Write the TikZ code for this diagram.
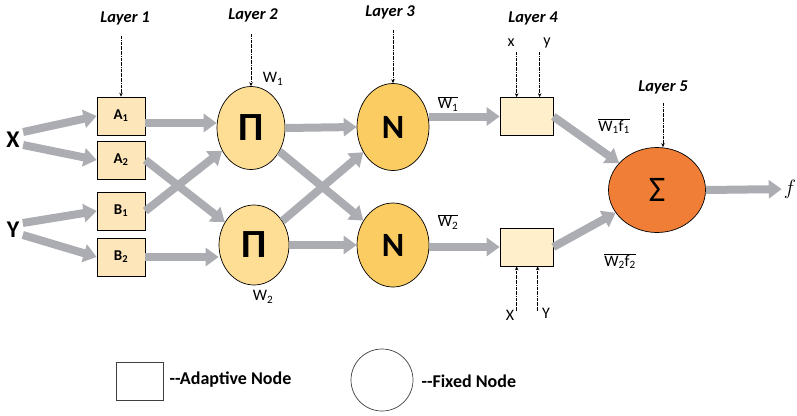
\documentclass[tikz,border=0pt]{standalone}
\usepackage{fontspec}
\setmainfont{Carlito}
\usetikzlibrary{arrows.meta,shapes.geometric}
\definecolor{flowgray}{RGB}{172,173,178}
\definecolor{mffill}{RGB}{253,231,186}
\definecolor{rulefill}{RGB}{255,239,202}
\definecolor{prodfill}{RGB}{254,222,148}
\definecolor{normfill}{RGB}{251,204,98}
\definecolor{sumfill}{RGB}{240,126,54}

\begin{document}
\begin{tikzpicture}[x=1pt,y=-1pt,
    flow/.style={line width=8pt,color=flowgray,-{Triangle[length=13pt,width=18pt]}},
    pointer/.style={densely dashdotted,line width=0.6pt,-{Stealth[length=4pt,width=3.5pt]}},
    mfbox/.style={draw,line width=0.7pt,fill=mffill,minimum width=48pt,minimum height=38pt,
      font={\bfseries\fontsize{15}{17}\selectfont}},
    rulebox/.style={draw,line width=0.7pt,fill=rulefill,minimum width=53pt,minimum height=38pt},
    fixed/.style={ellipse,draw,line width=0.7pt,inner sep=0pt},
    layer/.style={font={\bfseries\itshape\fontsize{16.5}{18}\selectfont}},
    wlabel/.style={font={\fontsize{16}{18}\selectfont}},
    input/.style={font={\bfseries\fontsize{24}{26}\selectfont}},
    legend/.style={font={\bfseries\fontsize{18}{20}\selectfont},anchor=west}]
  \useasboundingbox (0,0) rectangle (797,415);

  % inputs and layer 1
  \node[input] (X) at (13,140) {X};
  \node[input] (Y) at (13,230) {Y};
  \node[mfbox] (A1) at (121,116) {A\textsubscript{1}};
  \node[mfbox] (A2) at (121,160) {A\textsubscript{2}};
  \node[mfbox] (B1) at (121,211) {B\textsubscript{1}};
  \node[mfbox] (B2) at (121,257) {B\textsubscript{2}};

  % layers 2 to 5
  \node[fixed,fill=prodfill,minimum width=68pt,minimum height=83pt,font={\bfseries\fontsize{40}{42}\selectfont}] (P1) at (251,128) {Π};
  \node[fixed,fill=prodfill,minimum width=70pt,minimum height=80pt,font={\bfseries\fontsize{40}{42}\selectfont}] (P2) at (254,245) {Π};
  \node[fixed,fill=normfill,minimum width=72pt,minimum height=87pt,font={\bfseries\fontsize{34}{36}\selectfont}] (N1) at (393,127) {N};
  \node[fixed,fill=normfill,minimum width=72pt,minimum height=84pt,font={\bfseries\fontsize{34}{36}\selectfont}] (N2) at (393,245) {N};
  \node[rulebox] (R1) at (526.5,116.5) {};
  \node[rulebox] (R2) at (526.5,247) {};
  \node[fixed,fill=sumfill,minimum width=97pt,minimum height=85pt,font={\fontsize{36}{38}\selectfont}] (S) at (657,190) {Σ};
  \node[inner sep=2pt,font={\fontsize{22}{24}\selectfont}] (f) at (790,189) {$f$};

  % layer titles and side labels
  \node[layer] (L1) at (125,18) {Layer 1};
  \node[layer] (L2) at (253,15) {Layer 2};
  \node[layer] (L3) at (390,12) {Layer 3};
  \node[layer] (L4) at (533,18) {Layer 4};
  \node[layer] (L5) at (663,87) {Layer 5};
  \node[wlabel] (w1) at (273,79) {W\textsubscript{1}};
  \node[wlabel] (w2) at (263,297) {W\textsubscript{2}};
  \node[wlabel] (nw1) at (448,104) {$\overline{\mbox{W\textsubscript{1}}}$};
  \node[wlabel] (nw2) at (448,222) {$\overline{\mbox{W\textsubscript{2}}}$};
  \node[wlabel] (wf1) at (614,126) {$\overline{\mbox{W\textsubscript{1}f\textsubscript{1}}}$};
  \node[wlabel] (wf2) at (620,261) {$\overline{\mbox{W\textsubscript{2}f\textsubscript{2}}}$};
  \node[wlabel] (x1) at (511,43) {x};
  \node[wlabel] (y1) at (547,43) {y};
  \node[wlabel] (x2) at (510,315) {X};
  \node[wlabel] (y2) at (546,313) {Y};

  % flows
  \draw[flow] ([yshift=8pt]X.east) -- (A1.west);
  \draw[flow] ([yshift=-5pt]X.east) -- (A2.west);
  \draw[flow] ([yshift=7pt]Y.east) -- (B1.west);
  \draw[flow] ([yshift=-5pt]Y.east) -- (B2.west);
  \draw[flow] ([yshift=-7pt]A1.east) -- ([yshift=-7pt]A1.east -| P1.west);
  \draw[flow] (A2.east) -- (P2);
  \draw[flow] (B1.east) -- (P1);
  \draw[flow] (B2.east) -- (B2.east -| P2.west);
  \draw[flow] (P1.east) -- (N1.west);
  \draw[flow] (P1) -- (N2);
  \draw[flow] (P2) -- (N1);
  \draw[flow] (P2.east) -- (N2.west);
  \draw[flow] (N1.east |- R1.west) -- (R1.west);
  \draw[flow] (N2.east |- R2.west) -- (R2.west);
  \draw[flow] (R1.east) -- (S);
  \draw[flow] (R2.east) -- (S);
  \draw[flow] (S.east) -- (f);

  % pointers
  \draw[pointer] ([yshift=-8pt]L1.south -| A1.north) -- (A1.north);
  \draw[pointer] ([yshift=-9pt]L2.south -| P1.north) -- (P1.north);
  \draw[pointer] ([yshift=-8pt]L3.south -| N1.north) -- (N1.north);
  \draw[pointer] ([yshift=-6pt]L5.south) -- (L5.south |- S.north);
  \draw[pointer] (R1.north west) ++(17,-45) -- ++(0,45);
  \draw[pointer] (R1.north west) ++(40,-45) -- ++(0,45);
  \draw[pointer] (R2.south west) ++(17,45) -- ++(0,-45);
  \draw[pointer] (R2.south west) ++(38,45) -- ++(0,-45);

  % legend
  \node[draw,line width=0.7pt,draw=black!75,minimum width=47pt,minimum height=38pt] (keybox) at (139.5,381) {};
  \node[legend] (keyboxtext) at (166,380) {-{}-Adaptive Node};
  \node[circle,draw,line width=0.7pt,draw=black!75,minimum size=62pt] (keycircle) at (382,380) {};
  \node[legend] (keycircletext) at (418,381) {-{}-Fixed Node};
\end{tikzpicture}
\end{document}
